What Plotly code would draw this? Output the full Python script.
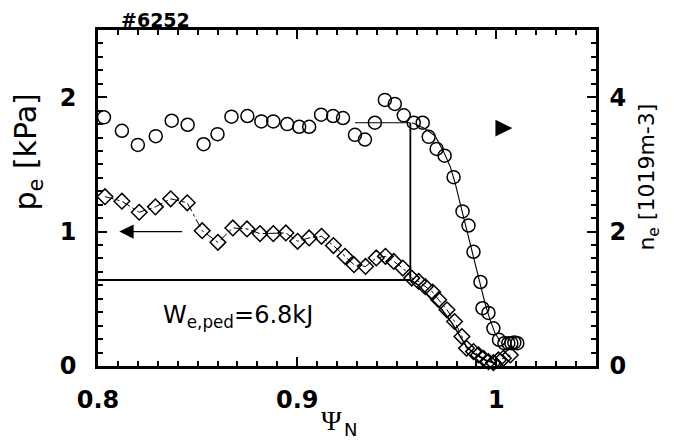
import plotly.graph_objects as go

# ---- data ----
psi_ne = [0.803, 0.812, 0.820, 0.829, 0.837, 0.845, 0.853, 0.860, 0.867, 0.875,
          0.882, 0.888, 0.895, 0.901, 0.906, 0.912, 0.918, 0.923, 0.929, 0.934,
          0.939, 0.944, 0.949, 0.9535, 0.9585, 0.963, 0.966, 0.970, 0.974, 0.9785,
          0.983, 0.986, 0.9885, 0.992, 0.993, 0.996, 0.9985, 1.0013, 1.004, 1.006,
          1.0075, 1.009, 1.0105]
ne = [3.70, 3.50, 3.29, 3.42, 3.65, 3.59, 3.30, 3.45, 3.71, 3.72,
      3.64, 3.64, 3.60, 3.56, 3.56, 3.74, 3.72, 3.69, 3.44, 3.37,
      3.62, 3.96, 3.90, 3.73, 3.62, 3.62, 3.41, 3.23, 3.13, 2.81,
      2.30, 2.09, 1.70, 1.25, 0.86, 0.79, 0.56, 0.39, 0.34, 0.34,
      0.34, 0.35, 0.34]

psi_pe = [0.8035, 0.812, 0.8207, 0.8288, 0.8365, 0.8448, 0.8523, 0.8602, 0.8677, 0.8748,
          0.8813, 0.888, 0.8943, 0.9002, 0.906, 0.9122, 0.9182, 0.924, 0.9285, 0.9343,
          0.9397, 0.9443, 0.9485, 0.953, 0.9575, 0.961, 0.9643, 0.968, 0.971, 0.9752,
          0.979, 0.9827, 0.985, 0.9885, 0.991, 0.9935, 0.996, 0.9985, 1.001, 1.0035,
          1.007]
pe = [1.26, 1.226, 1.144, 1.184, 1.244, 1.214, 1.007, 0.92, 1.027, 1.02,
      0.985, 0.985, 0.99, 0.928, 0.953, 0.965, 0.896, 0.816, 0.754, 0.741,
      0.804, 0.816, 0.778, 0.729, 0.654, 0.629, 0.59, 0.55, 0.493, 0.418,
      0.331, 0.219, 0.132, 0.107, 0.082, 0.057, 0.032, 0.025, 0.045, 0.057,
      0.082]

psi_ne_fit = [0.9577, 0.9643, 0.9693, 0.9735, 0.9768, 0.9793, 0.9818, 0.9843,
              0.9868, 0.9893, 0.9918, 0.9943, 0.9968, 0.9993, 1.002]
ne_fit = [3.62, 3.53, 3.42, 3.19, 2.97, 2.72, 2.42, 2.13,
          1.83, 1.53, 1.23, 0.93, 0.69, 0.49, 0.36]

psi_pe_fit = [0.9568, 0.961, 0.966, 0.9727, 0.9777, 0.9818, 0.985, 0.989, 0.9943, 0.9993]
pe_fit = [0.64, 0.60, 0.517, 0.418, 0.319, 0.219, 0.144, 0.09, 0.045, 0.02]

ped_psi = 0.9568
ped_pe = 0.64
ped_ne = 3.62
ped_ne_start = 0.929

x_ticks = [0.8, 0.9, 1.0]
x_ticktext = ["0.8", "0.9", "1"]
pe_ticks = [0, 1, 2]
ne_ticks = [0, 2, 4]

title_text = "#6252"
w_text = "W<sub>e,ped</sub>=6.8kJ"

# ---- figure ----
BLACK = "black"
tickfont = dict(family="DejaVu Sans", size=24, color=BLACK, weight="bold")

fig = go.Figure()

# pedestal lines
fig.add_trace(go.Scatter(x=[0.8, ped_psi], y=[ped_pe, ped_pe], mode="lines",
                         line=dict(color=BLACK, width=2.2), yaxis="y", showlegend=False))
fig.add_trace(go.Scatter(x=[ped_psi, ped_psi], y=[ped_pe, ped_ne / 2], mode="lines",
                         line=dict(color=BLACK, width=1.8), yaxis="y", showlegend=False))
fig.add_trace(go.Scatter(x=[ped_ne_start, ped_psi], y=[ped_ne, ped_ne], mode="lines",
                         line=dict(color=BLACK, width=1.2), yaxis="y2", showlegend=False))

# fits
fig.add_trace(go.Scatter(x=psi_pe_fit, y=pe_fit, mode="lines",
                         line=dict(color=BLACK, width=1.5), yaxis="y", showlegend=False))
fig.add_trace(go.Scatter(x=psi_ne_fit, y=ne_fit, mode="lines",
                         line=dict(color=BLACK, width=1.1), yaxis="y2", showlegend=False))

# pe diamonds with dash-dot connecting line
fig.add_trace(go.Scatter(x=psi_pe, y=pe, mode="lines+markers",
                         line=dict(color=BLACK, width=1, dash="dashdot"),
                         marker=dict(symbol="diamond-open", size=12, color=BLACK,
                                     line=dict(width=1.5, color=BLACK)),
                         yaxis="y", showlegend=False, cliponaxis=False))

# ne circles
fig.add_trace(go.Scatter(x=psi_ne, y=ne, mode="markers",
                         marker=dict(symbol="circle-open", size=13, color=BLACK,
                                     line=dict(width=1.5, color=BLACK)),
                         yaxis="y2", showlegend=False, cliponaxis=False))

# the page body has an 8 px margin, so the figure is 8 px smaller and shifted
fig.update_layout(
    template="none",
    width=666, height=433,
    margin=dict(l=90, r=78, t=22, b=75, autoexpand=False),
    paper_bgcolor="white", plot_bgcolor="white",
    xaxis=dict(range=[0.8, 1.05], tickvals=x_ticks, ticktext=x_ticktext, automargin=False,
               showline=True, linewidth=2.5, linecolor=BLACK, mirror="ticks",
               ticks="inside", ticklen=9, tickwidth=1.5, tickcolor=BLACK,
               minor=dict(dtick=0.01, ticks="inside", ticklen=5, tickwidth=1.5, tickcolor=BLACK),
               showgrid=False, zeroline=False, tickfont=tickfont, ticklabelstandoff=10),
    yaxis=dict(range=[0, 2.5], tickvals=pe_ticks, automargin=False,
               showline=True, linewidth=2.5, linecolor=BLACK,
               ticks="inside", ticklen=9, tickwidth=1.5, tickcolor=BLACK,
               minor=dict(dtick=0.1, ticks="inside", ticklen=5, tickwidth=1.5, tickcolor=BLACK),
               showgrid=False, zeroline=False, tickfont=tickfont, ticklabelstandoff=14),
    yaxis2=dict(range=[0, 5], tickvals=ne_ticks, overlaying="y", side="right", automargin=False,
                showline=True, linewidth=2.5, linecolor=BLACK,
                ticks="inside", ticklen=9, tickwidth=1.5, tickcolor=BLACK,
                minor=dict(dtick=0.2, ticks="inside", ticklen=5, tickwidth=1.5, tickcolor=BLACK),
                showgrid=False, zeroline=False, tickfont=tickfont, ticklabelstandoff=6),
)

annotations = [
    dict(text=title_text, xref="paper", yref="paper", x=0.044, y=1.031,
         xanchor="left", yanchor="middle", showarrow=False, borderpad=0,
         font=dict(family="DejaVu Sans", size=19, color=BLACK, weight="bold")),
    dict(text=w_text, xref="x", yref="y", x=0.8705, y=0.366,
         xanchor="center", yanchor="middle", showarrow=False,
         font=dict(family="DejaVu Sans", size=24, color=BLACK)),
    # x-axis title: Psi with subscript N (two parts)
    dict(text="Ψ", xref="paper", yref="paper", x=0.468, y=-0.163,
         xanchor="center", yanchor="middle", showarrow=False, borderpad=0,
         font=dict(family="Liberation Serif", size=28, color=BLACK)),
    dict(text="N", xref="paper", yref="paper", x=0.507, y=-0.188,
         xanchor="center", yanchor="middle", showarrow=False, borderpad=0,
         font=dict(family="DejaVu Sans", size=18, color=BLACK)),
    dict(text="p<sub>e</sub> [kPa]", xref="paper", yref="paper", x=-0.1406, y=0.638,
         xanchor="center", yanchor="middle", showarrow=False, textangle=-90,
         font=dict(family="DejaVu Sans", size=30, color=BLACK)),
    dict(text="n<sub>e</sub> [1019m-3]", xref="paper", yref="paper", x=1.106, y=0.563,
         xanchor="center", yanchor="middle", showarrow=False, textangle=-90,
         font=dict(family="DejaVu Sans", size=22, color=BLACK)),
    # left arrow (pe axis)
    dict(x=0.8107, y=1.0, ax=0.843, ay=1.0, xref="x", yref="y", axref="x", ayref="y",
         text="", showarrow=True, arrowhead=2, arrowsize=2.2, arrowwidth=1.3, arrowcolor=BLACK),
    # right arrowhead (ne axis)
    dict(x=1.008, y=3.54, ax=1.0025, ay=3.54, xref="x", yref="y2", axref="x", ayref="y2",
         text="", showarrow=True, arrowhead=2, arrowsize=2.6, arrowwidth=1.3, arrowcolor=BLACK),
]
fig.update_layout(annotations=annotations)

fig.write_html("out.html")
